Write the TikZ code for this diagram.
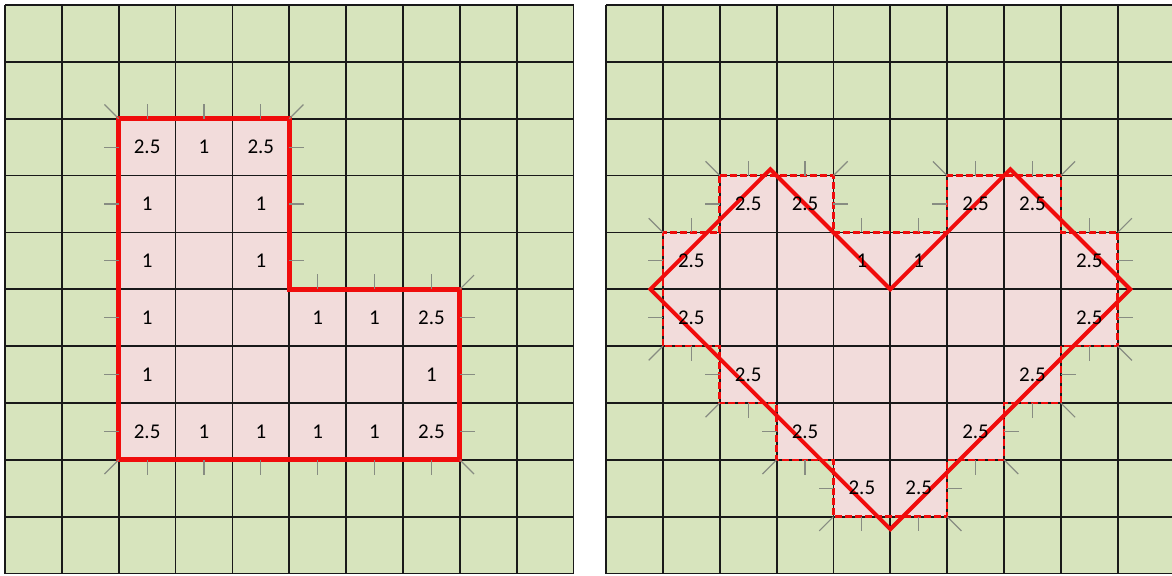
\documentclass[tikz,border=0pt]{standalone}
\usepackage{fontspec}
\setmainfont{Carlito}
\usepackage{tikz}
\definecolor{cellgreen}{RGB}{215,228,189}
\definecolor{cellpink}{RGB}{242,220,219}
\definecolor{edgered}{RGB}{240,12,12}
\definecolor{tickgray}{RGB}{135,140,130}

\begin{document}
\begin{tikzpicture}[x=1cm, y=-1cm,
  gridln/.style={line width=0.9pt, black!90},
  cellbg/.style={fill=cellgreen},
  pinkcell/.style={fill=cellpink},
  Lline/.style={draw=edgered, line width=2.4pt, line join=miter},
  stairln/.style={draw=edgered, line width=1.3pt, dash pattern=on 3.5pt off 1.5pt},
  heartln/.style={draw=edgered, line width=2pt, line join=miter},
  tickln/.style={tickgray, line width=0.6pt},
  wt/.style={font=\fontsize{10.5}{12}\selectfont, inner sep=0pt}
]
\useasboundingbox (0,0) rectangle (20.615,10.114);
\clip (0,0) rectangle (20.615,10.114);
\fill[white] (0,0) rectangle (20.615,10.114);

% --- left grid: L shape ---
\begin{scope}[shift={(0.088,0.088)}]
\fill[cellbg] (0,0) rectangle (10,10);
\fill[pinkcell] (2,2) -- (5,2) -- (5,5) -- (8,5) -- (8,8) -- (2,8) -- cycle;
\foreach \k in {0,...,10} {
  \draw[gridln] (\k,0) -- (\k,10);
  \draw[gridln] (0,\k) -- (10,\k);
}
\draw[Lline] (2,2) -- (5,2) -- (5,5) -- (8,5) -- (8,8) -- (2,8) -- cycle;
% normals
\foreach \x/\y in {2.5/2,3.5/2,4.5/2,5.5/5,6.5/5,7.5/5} \draw[tickln] (\x,\y) -- ++(0,-0.26);
\foreach \x in {2.5,3.5,4.5,5.5,6.5,7.5} \draw[tickln] (\x,8) -- ++(0,0.26);
\foreach \y in {2.5,3.5,4.5,5.5,6.5,7.5} \draw[tickln] (2,\y) -- ++(-0.26,0);
\foreach \x/\y in {5/2.5,5/3.5,5/4.5,8/5.5,8/6.5,8/7.5} \draw[tickln] (\x,\y) -- ++(0.26,0);
\draw[tickln] (2,2) -- ++(-0.25,-0.25);
\draw[tickln] (5,2) -- ++(0.25,-0.25);
\draw[tickln] (8,5) -- ++(0.25,-0.25);
\draw[tickln] (8,8) -- ++(0.25,0.25);
\draw[tickln] (2,8) -- ++(-0.25,0.25);
% weights
\foreach \c/\r/\v in {2/2/2.5, 3/2/1, 4/2/2.5, 2/3/1, 4/3/1, 2/4/1, 4/4/1,
    2/5/1, 5/5/1, 6/5/1, 7/5/2.5, 2/6/1, 7/6/1,
    2/7/2.5, 3/7/1, 4/7/1, 5/7/1, 6/7/1, 7/7/2.5}
  \node[wt] (L-\c-\r) at (\c+0.5,\r+0.5) {\v};
\end{scope}

% --- right grid: heart ---
\begin{scope}[shift={(10.66,0.088)}]
\fill[cellbg] (0,0) rectangle (10,10);
\fill[pinkcell] (2,3) -- (4,3) -- (4,4) -- (6,4) -- (6,3) -- (8,3) -- (8,4) -- (9,4) -- (9,6)
  -- (8,6) -- (8,7) -- (7,7) -- (7,8) -- (6,8) -- (6,9) -- (4,9) -- (4,8) -- (3,8)
  -- (3,7) -- (2,7) -- (2,6) -- (1,6) -- (1,4) -- (2,4) -- cycle;
\foreach \k in {0,...,10} {
  \draw[gridln] (\k,0) -- (\k,10);
  \draw[gridln] (0,\k) -- (10,\k);
}
\draw[stairln] (2,3) -- (4,3) -- (4,4) -- (6,4) -- (6,3) -- (8,3) -- (8,4) -- (9,4) -- (9,6)
  -- (8,6) -- (8,7) -- (7,7) -- (7,8) -- (6,8) -- (6,9) -- (4,9) -- (4,8) -- (3,8)
  -- (3,7) -- (2,7) -- (2,6) -- (1,6) -- (1,4) -- (2,4) -- cycle;
% normals
\foreach \x/\y in {2.5/3,3.5/3,6.5/3,7.5/3,1.5/4,4.5/4,5.5/4,8.5/4} \draw[tickln] (\x,\y) -- ++(0,-0.26);
\foreach \x/\y in {1.5/6,8.5/6,2.5/7,7.5/7,3.5/8,6.5/8,4.5/9,5.5/9} \draw[tickln] (\x,\y) -- ++(0,0.26);
\foreach \x/\y in {2/3.5,6/3.5,1/4.5,1/5.5,2/6.5,3/7.5,4/8.5} \draw[tickln] (\x,\y) -- ++(-0.26,0);
\foreach \x/\y in {4/3.5,9/4.5,9/5.5,8/6.5,7/7.5,6/8.5} \draw[tickln] (\x,\y) -- ++(0.26,0);
\foreach \x/\y in {2/3,6/3,1/4} \draw[tickln] (\x,\y) -- ++(-0.25,-0.25);
\foreach \x/\y in {4/3,8/3,9/4} \draw[tickln] (\x,\y) -- ++(0.25,-0.25);
\foreach \x/\y in {9/6,8/7,7/8,6/9} \draw[tickln] (\x,\y) -- ++(0.25,0.25);
\foreach \x/\y in {4/9,3/8,2/7,1/6} \draw[tickln] (\x,\y) -- ++(-0.25,0.25);
% heart outline
\draw[heartln] (0.78,5) -- (2.89,2.89) -- (5,5) -- (7.11,2.89) -- (9.22,5) -- (5,9.22) -- cycle;
% weights
\foreach \c/\r/\v in {2/3/2.5, 3/3/2.5, 6/3/2.5, 7/3/2.5,
    1/4/2.5, 4/4/1, 5/4/1, 8/4/2.5, 1/5/2.5, 8/5/2.5,
    2/6/2.5, 7/6/2.5, 3/7/2.5, 6/7/2.5, 4/8/2.5, 5/8/2.5}
  \node[wt] (H-\c-\r) at (\c+0.5,\r+0.5) {\v};
\end{scope}
\end{tikzpicture}
\end{document}
